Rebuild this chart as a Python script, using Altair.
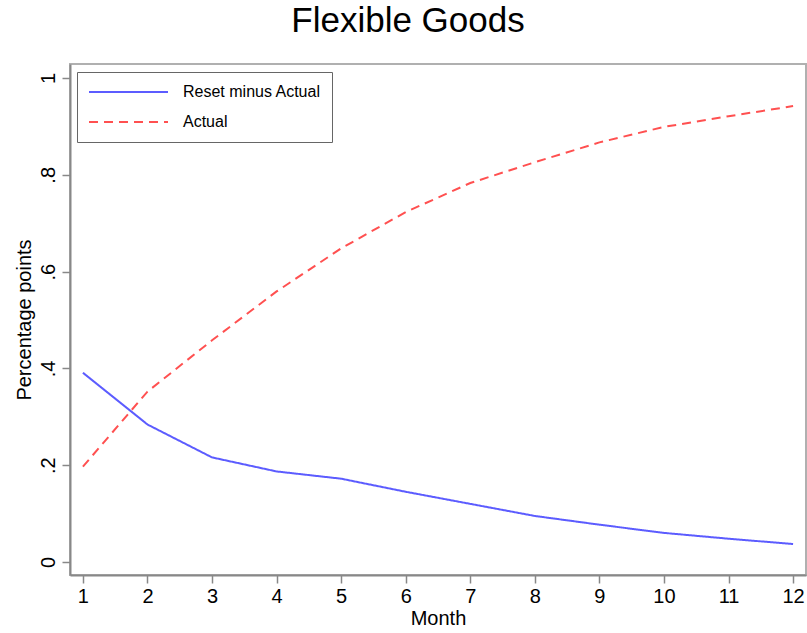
import altair as alt
import pandas as pd

# Months after the reset and the two series plotted against them
months = [1, 2, 3, 4, 5, 6, 7, 8, 9, 10, 11, 12]
reset_minus_actual = [0.391, 0.284, 0.216, 0.187, 0.172, 0.145, 0.120, 0.095, 0.077, 0.060, 0.048, 0.037]
actual = [0.197, 0.352, 0.458, 0.559, 0.648, 0.723, 0.783, 0.826, 0.867, 0.899, 0.921, 0.942]

series_names = ["Reset minus Actual", "Actual"]
series_colors = ["#5c5cff", "#ff5050"]
series_dashes = [[1, 0], [9, 6]]

df = pd.concat([
    pd.DataFrame({"Month": months, "value": reset_minus_actual, "series": series_names[0]}),
    pd.DataFrame({"Month": months, "value": actual, "series": series_names[1]}),
])

FONT = "Liberation Sans"

legend = alt.Legend(
    title=None,
    orient="none",
    legendX=7,
    legendY=8,
    symbolType="stroke",
    symbolSize=79 * 79,
    symbolStrokeWidth=2,
    clipHeight=18,
    rowPadding=12,
    labelOffset=14,
    labelFont=FONT,
    labelFontSize=16,
    labelColor="black",
    padding=11,
    strokeColor="#666666",
    fillColor="white",
    labelLimit=300,
)

chart = alt.Chart(df).mark_line(strokeWidth=2).encode(
    x=alt.X(
        "Month:Q",
        scale=alt.Scale(domain=[0.8, 12.2], nice=False, zero=False),
        axis=alt.Axis(values=months, title="Month", labelPadding=3, titlePadding=2),
    ),
    y=alt.Y(
        "value:Q",
        scale=alt.Scale(domain=[-0.027, 1.029], nice=False, zero=False),
        axis=alt.Axis(
            values=[0, 0.2, 0.4, 0.6, 0.8, 1],
            title="Percentage points",
            labelAngle=270,
            labelExpr="datum.value == 0 || datum.value == 1 ? format(datum.value, 'd') : replace(format(datum.value, '.1f'), '0.', '.')",
            labelPadding=4,
            titlePadding=4,
        ),
    ),
    color=alt.Color(
        "series:N",
        scale=alt.Scale(domain=series_names, range=series_colors),
        legend=legend,
    ),
    strokeDash=alt.StrokeDash(
        "series:N",
        scale=alt.Scale(domain=series_names, range=series_dashes),
        legend=legend,
    ),
).properties(
    width=736,
    height=511,
    title=alt.TitleParams(
        "Flexible Goods",
        font=FONT,
        fontSize=35,
        fontWeight="normal",
        color="black",
        anchor="middle",
        dx=-30,
        offset=25,
    ),
    padding={"left": 70, "top": 64, "right": 1, "bottom": 58},
    autosize=alt.AutoSizeParams(type="none"),
).configure(
    background="white",
).configure_view(
    stroke="#b0b0b0",
    strokeWidth=2,
).configure_axis(
    grid=False,
    domainColor="#888888",
    domainWidth=2,
    tickColor="#888888",
    tickWidth=1.5,
    tickSize=8,
    labelFont=FONT,
    labelFontSize=20,
    labelColor="black",
    titleFont=FONT,
    titleFontSize=20,
    titleFontWeight="normal",
    titleColor="black",
)

chart.save("out.html", embed_options={"renderer": "svg", "actions": False})
